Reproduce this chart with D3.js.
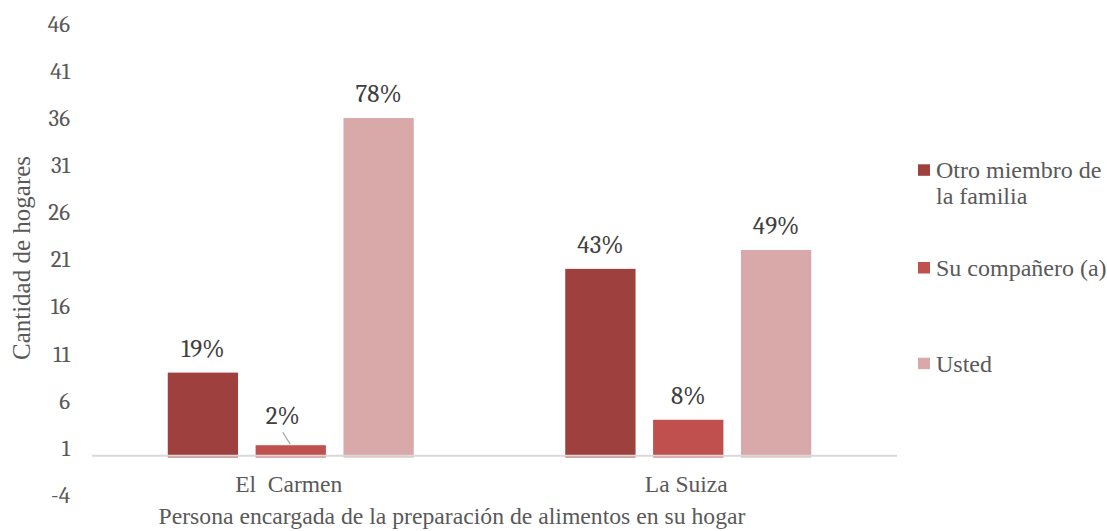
<!DOCTYPE html>
<html>
<head>
<meta charset="utf-8">
<script src="https://cdn.jsdelivr.net/npm/d3@7"></script>
<style>
  body { margin: 0; background: #fff; }
  svg { display: block; }
</style>
</head>
<body>
<svg width="1107" height="531"></svg>
<script>
var categories = ["El  Carmen", "La Suiza"];
var seriesNames = ["Otro miembro de la familia", "Su compañero (a)", "Usted"];
var otro = [9, 20];
var companero = [1.3, 4];
var usted = [36, 22];
var otroLabels = ["19%", "43%"];
var companeroLabels = ["2%", "8%"];
var ustedLabels = ["78%", "49%"];
var yTicks = [-4, 1, 6, 11, 16, 21, 26, 31, 36, 41, 46];
var colors = ["#9e403d", "#c0504d", "#d9a9aa"];

var numFont = "Cambria, Caladea, serif";
var txtFont = "'Liberation Serif', 'Times New Roman', serif";

var svg = d3.select("svg");

var x0 = d3.scaleBand()
.domain(categories)
.range([92, 887]);

var x1 = d3.scaleBand()
.domain(seriesNames)
.range([0, 246])
.paddingInner(0.2);

var y = d3.scaleLinear()
.domain([-4, 46])
.range([495.2, 23.7]);

// y axis (labels only)
var yAxis = svg.append("g")
.attr("transform", "translate(70,0)")
.call(d3.axisLeft(y).tickValues(yTicks).tickSize(0).tickPadding(0).tickFormat(function(d) { return String(d); }));
yAxis.select(".domain").remove();
yAxis.selectAll("text")
.style("font-family", numFont)
.style("font-size", "23px")
.attr("fill", "#595959");

// bars
var rows = categories.map(function(c, i) {
  return [
    { cat: c, s: seriesNames[0], v: otro[i], label: otroLabels[i], color: colors[0] },
    { cat: c, s: seriesNames[1], v: companero[i], label: companeroLabels[i], color: colors[1] },
    { cat: c, s: seriesNames[2], v: usted[i], label: ustedLabels[i], color: colors[2] }
  ];
});

var groups = svg.selectAll("g.grp")
.data(rows)
.enter().append("g")
.attr("class", "grp")
.attr("transform", function(d) {
  return "translate(" + (x0(d[0].cat) + (x0.bandwidth() - 246) / 2) + ",0)";
});

groups.selectAll("rect")
.data(function(d) { return d; })
.enter().append("rect")
.attr("x", function(d) { return x1(d.s); })
.attr("width", x1.bandwidth())
.attr("y", function(d) { return y(d.v); })
.attr("height", function(d) { return y(0) - y(d.v); })
.attr("fill", function(d) { return d.color; });

// data labels
groups.selectAll("text.lbl")
.data(function(d) { return d; })
.enter().append("text")
.attr("class", "lbl")
.attr("text-anchor", "middle")
.attr("x", function(d) {
  var cx = x1(d.s) + x1.bandwidth() / 2;
  return d.v < 2 ? cx - 8 : cx;
})
.attr("y", function(d) { return d.v < 2 ? y(d.v) - 21.5 : y(d.v) - 16; })
.style("font-family", numFont)
.style("font-size", "25px")
.attr("fill", "#404040")
.text(function(d) { return d.label; });

// leader line for the small bar
groups.filter(function(d) { return d[1].v < 2; })
.append("line")
.attr("x1", x1(seriesNames[1]) + x1.bandwidth() / 2 - 8)
.attr("x2", x1(seriesNames[1]) + x1.bandwidth() / 2 - 0.5)
.attr("y1", function(d) { return y(d[1].v) - 13; })
.attr("y2", function(d) { return y(d[1].v) - 1; })
.attr("stroke", "#a6a6a6")
.attr("stroke-width", 1.3);

// category axis line
svg.append("line")
.attr("x1", 92)
.attr("x2", 897)
.attr("y1", y(0) - 1.8)
.attr("y2", y(0) - 1.8)
.attr("stroke", "#d9d9d9")
.attr("stroke-width", 2);

// category labels
svg.selectAll("text.cat")
.data(categories)
.enter().append("text")
.attr("class", "cat")
.attr("x", function(d) { return x0(d) + x0.bandwidth() / 2 - 2; })
.attr("y", 491.5)
.attr("text-anchor", "middle")
.style("font-family", txtFont)
.style("font-size", "23.5px")
.style("white-space", "pre")
.attr("fill", "#595959")
.text(function(d) { return d; });

// axis titles
svg.append("text")
.attr("x", 452)
.attr("y", 524)
.attr("text-anchor", "middle")
.style("font-family", txtFont)
.style("font-size", "23.7px")
.attr("fill", "#595959")
.text("Persona encargada de la preparación de alimentos en su hogar");

svg.append("text")
.attr("transform", "translate(30,258) rotate(-90)")
.attr("text-anchor", "middle")
.style("font-family", txtFont)
.style("font-size", "25px")
.attr("fill", "#595959")
.text("Cantidad de hogares");

// legend
var legendItems = [
  { lines: ["Otro miembro de", "la familia"], color: colors[0], y: 178.3 },
  { lines: ["Su compañero (a)"], color: colors[1], y: 276 },
  { lines: ["Usted"], color: colors[2], y: 371.7 }
];

var legend = svg.append("g");
legendItems.forEach(function(it) {
  legend.append("rect")
  .attr("x", 918)
  .attr("y", it.y - 14)
  .attr("width", 12)
  .attr("height", 11.5)
  .attr("fill", it.color);
  var t = legend.append("text")
  .style("font-family", txtFont)
  .style("font-size", "24px")
  .attr("fill", "#595959");
  it.lines.forEach(function(l, j) {
    t.append("tspan")
    .attr("x", 936)
    .attr("y", it.y + j * 26)
    .text(l);
  });
});
</script>
</body>
</html>
